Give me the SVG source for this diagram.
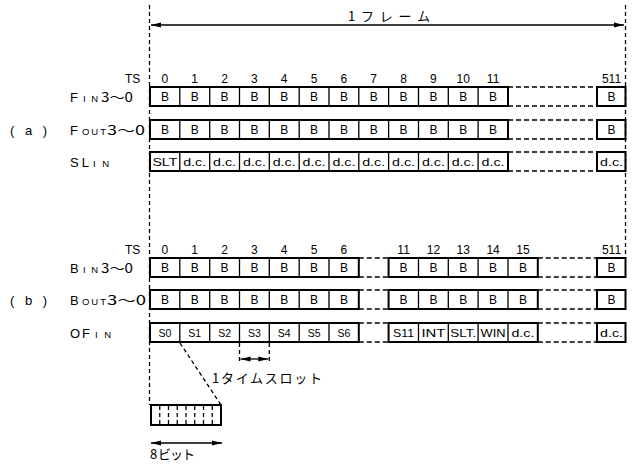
<svg xmlns="http://www.w3.org/2000/svg" width="635" height="469" viewBox="0 0 635 469">
<defs>
<style>
.t{font-family:"Liberation Sans","Noto Sans CJK JP",sans-serif;fill:#000}
.j{font-family:"Noto Sans CJK JP","Liberation Sans",sans-serif;fill:#000}
.n{font-size:12px;text-anchor:middle}
.c{font-size:12px;text-anchor:middle}
.s{font-size:10.5px;text-anchor:middle}
.L{font-size:13px}
.sm{font-size:9.5px}
.box{fill:none;stroke:#000;stroke-width:2}
.dv{stroke:#000;stroke-width:1.3;fill:none}
.dash{stroke:#000;stroke-width:1.6;stroke-dasharray:5 3;fill:none}
.vd{stroke:#000;stroke-width:1.3;stroke-dasharray:4 3;fill:none}
.ln{stroke:#000;stroke-width:1.3;fill:none}
</style>
<marker id="ah" viewBox="0 0 10 6" refX="10" refY="3" markerWidth="10" markerHeight="6" markerUnits="userSpaceOnUse" orient="auto-start-reverse">
<path d="M0,0.5 L10,3 L0,5.5 Z" fill="#000"/>
</marker>
</defs>
<rect width="635" height="469" fill="#fff"/>

<g id="connectors">
<line class="vd" x1="149.5" y1="5" x2="149.5" y2="405"/>
<line class="vd" x1="625.5" y1="5" x2="625.5" y2="258"/>
<line class="ln" x1="151" y1="25" x2="624" y2="25" marker-start="url(#ah)" marker-end="url(#ah)"/>
<line class="vd" x1="180" y1="343" x2="221" y2="405"/>
<line class="vd" x1="239.5" y1="343" x2="239.5" y2="364"/>
<line class="vd" x1="269.3" y1="343" x2="269.3" y2="364"/>
<line class="ln" x1="240.5" y1="359" x2="268.3" y2="359" marker-start="url(#ah)" marker-end="url(#ah)"/>
<line class="ln" x1="151" y1="443" x2="222" y2="443" marker-start="url(#ah)" marker-end="url(#ah)"/>
</g>

<g id="frame-label">
<text class="j" x="348" y="21" font-size="13" textLength="82" lengthAdjust="spacing">1フレーム</text>
</g>

<g id="label-a">
<text class="t" x="10" y="134.5" font-size="13" textLength="37" lengthAdjust="spacing">( a )</text>
</g>
<g id="label-b">
<text class="t" x="10" y="305" font-size="13" textLength="37" lengthAdjust="spacing">( b )</text>
</g>

<g id="ts-a">
<text class="t" x="125" y="83" font-size="12">TS</text>
<text class="t n" x="164.9" y="83">0</text><text class="t n" x="194.7" y="83">1</text><text class="t n" x="224.6" y="83">2</text><text class="t n" x="254.4" y="83">3</text><text class="t n" x="284.2" y="83">4</text><text class="t n" x="314.1" y="83">5</text><text class="t n" x="343.9" y="83">6</text><text class="t n" x="373.7" y="83">7</text><text class="t n" x="403.6" y="83">8</text><text class="t n" x="433.4" y="83">9</text><text class="t n" x="463.2" y="83">10</text><text class="t n" x="493.1" y="83">11</text><text class="t n" x="611.5" y="83">511</text>
</g>

<g id="row-fin">
<text class="t L" x="70" y="101.5">F</text><text class="t sm" x="83" y="101.5" textLength="15" lengthAdjust="spacing">IN</text><text class="j L" x="101" y="101.5" textLength="32" lengthAdjust="spacingAndGlyphs">3〜0</text>
<rect class="box" x="150" y="87" width="358" height="19"/>
<path class="dv" d="M179.8,87V106M209.7,87V106M239.5,87V106M269.3,87V106M299.2,87V106M329,87V106M358.8,87V106M388.6,87V106M418.5,87V106M448.3,87V106M478.1,87V106"/>
<path class="dash" d="M508,87H597M508,106H597"/>
<rect class="box" x="597" y="87" width="28.5" height="19"/>
<text class="t c" x="164.9" y="101">B</text><text class="t c" x="194.7" y="101">B</text><text class="t c" x="224.6" y="101">B</text><text class="t c" x="254.4" y="101">B</text><text class="t c" x="284.2" y="101">B</text><text class="t c" x="314.1" y="101">B</text><text class="t c" x="343.9" y="101">B</text><text class="t c" x="373.7" y="101">B</text><text class="t c" x="403.6" y="101">B</text><text class="t c" x="433.4" y="101">B</text><text class="t c" x="463.2" y="101">B</text><text class="t c" x="493.1" y="101">B</text><text class="t c" x="611.5" y="101">B</text>
</g>

<g id="row-fout">
<text class="t L" x="70" y="134.5">F</text><text class="t sm" x="82" y="134.5" textLength="24" lengthAdjust="spacing">OUT</text><text class="j L" x="107" y="134.5" textLength="38" lengthAdjust="spacingAndGlyphs">3〜0</text>
<rect class="box" x="150" y="120" width="358" height="19"/>
<path class="dv" d="M179.8,120V139M209.7,120V139M239.5,120V139M269.3,120V139M299.2,120V139M329,120V139M358.8,120V139M388.6,120V139M418.5,120V139M448.3,120V139M478.1,120V139"/>
<path class="dash" d="M508,120H597M508,139H597"/>
<rect class="box" x="597" y="120" width="28.5" height="19"/>
<text class="t c" x="164.9" y="134">B</text><text class="t c" x="194.7" y="134">B</text><text class="t c" x="224.6" y="134">B</text><text class="t c" x="254.4" y="134">B</text><text class="t c" x="284.2" y="134">B</text><text class="t c" x="314.1" y="134">B</text><text class="t c" x="343.9" y="134">B</text><text class="t c" x="373.7" y="134">B</text><text class="t c" x="403.6" y="134">B</text><text class="t c" x="433.4" y="134">B</text><text class="t c" x="463.2" y="134">B</text><text class="t c" x="493.1" y="134">B</text><text class="t c" x="611.5" y="134">B</text>
</g>

<g id="row-slin">
<text class="t L" x="70" y="166.5" textLength="19" lengthAdjust="spacing">SL</text><text class="t sm" x="93" y="166.5" textLength="16" lengthAdjust="spacing">IN</text>
<rect class="box" x="150" y="152" width="358" height="19"/>
<path class="dv" d="M179.8,152V171M209.7,152V171M239.5,152V171M269.3,152V171M299.2,152V171M329,152V171M358.8,152V171M388.6,152V171M418.5,152V171M448.3,152V171M478.1,152V171"/>
<path class="dash" d="M508,152H597M508,171H597"/>
<rect class="box" x="597" y="152" width="28.5" height="19"/>
<text class="t s" x="164.9" y="166" textLength="25" lengthAdjust="spacingAndGlyphs">SLT</text>
<text class="t s" x="194.7" y="166" textLength="23" lengthAdjust="spacingAndGlyphs">d.c.</text><text class="t s" x="224.6" y="166" textLength="23" lengthAdjust="spacingAndGlyphs">d.c.</text><text class="t s" x="254.4" y="166" textLength="23" lengthAdjust="spacingAndGlyphs">d.c.</text><text class="t s" x="284.2" y="166" textLength="23" lengthAdjust="spacingAndGlyphs">d.c.</text><text class="t s" x="314.1" y="166" textLength="23" lengthAdjust="spacingAndGlyphs">d.c.</text><text class="t s" x="343.9" y="166" textLength="23" lengthAdjust="spacingAndGlyphs">d.c.</text><text class="t s" x="373.7" y="166" textLength="23" lengthAdjust="spacingAndGlyphs">d.c.</text><text class="t s" x="403.6" y="166" textLength="23" lengthAdjust="spacingAndGlyphs">d.c.</text><text class="t s" x="433.4" y="166" textLength="23" lengthAdjust="spacingAndGlyphs">d.c.</text><text class="t s" x="463.2" y="166" textLength="23" lengthAdjust="spacingAndGlyphs">d.c.</text><text class="t s" x="493.1" y="166" textLength="23" lengthAdjust="spacingAndGlyphs">d.c.</text><text class="t s" x="611.5" y="166" textLength="23" lengthAdjust="spacingAndGlyphs">d.c.</text>
</g>

<g id="ts-b">
<text class="t" x="125" y="254" font-size="12">TS</text>
<text class="t n" x="164.9" y="254">0</text><text class="t n" x="194.7" y="254">1</text><text class="t n" x="224.6" y="254">2</text><text class="t n" x="254.4" y="254">3</text><text class="t n" x="284.2" y="254">4</text><text class="t n" x="314.1" y="254">5</text><text class="t n" x="343.9" y="254">6</text><text class="t n" x="403.6" y="254">11</text><text class="t n" x="433.4" y="254">12</text><text class="t n" x="463.2" y="254">13</text><text class="t n" x="493.1" y="254">14</text><text class="t n" x="522.9" y="254">15</text><text class="t n" x="611.5" y="254">511</text>
</g>

<g id="row-bin">
<text class="t L" x="70" y="272.5">B</text><text class="t sm" x="83" y="272.5" textLength="15" lengthAdjust="spacing">IN</text><text class="j L" x="101" y="272.5" textLength="32" lengthAdjust="spacingAndGlyphs">3〜0</text>
<rect class="box" x="150" y="258" width="208.8" height="19"/>
<path class="dv" d="M179.8,258V277M209.7,258V277M239.5,258V277M269.3,258V277M299.2,258V277M329,258V277"/>
<path class="dash" d="M358.8,258H388.6M358.8,277H388.6"/>
<rect class="box" x="388.6" y="258" width="149.2" height="19"/>
<path class="dv" d="M418.5,258V277M448.3,258V277M478.1,258V277M508,258V277"/>
<path class="dash" d="M537.8,258H597M537.8,277H597"/>
<rect class="box" x="597" y="258" width="28.5" height="19"/>
<text class="t c" x="164.9" y="272">B</text><text class="t c" x="194.7" y="272">B</text><text class="t c" x="224.6" y="272">B</text><text class="t c" x="254.4" y="272">B</text><text class="t c" x="284.2" y="272">B</text><text class="t c" x="314.1" y="272">B</text><text class="t c" x="343.9" y="272">B</text><text class="t c" x="403.6" y="272">B</text><text class="t c" x="433.4" y="272">B</text><text class="t c" x="463.2" y="272">B</text><text class="t c" x="493.1" y="272">B</text><text class="t c" x="522.9" y="272">B</text><text class="t c" x="611.5" y="272">B</text>
</g>

<g id="row-bout">
<text class="t L" x="70" y="304.5">B</text><text class="t sm" x="82" y="304.5" textLength="24" lengthAdjust="spacing">OUT</text><text class="j L" x="107" y="304.5" textLength="39" lengthAdjust="spacingAndGlyphs">3〜0</text>
<rect class="box" x="150" y="290" width="208.8" height="19"/>
<path class="dv" d="M179.8,290V309M209.7,290V309M239.5,290V309M269.3,290V309M299.2,290V309M329,290V309"/>
<path class="dash" d="M358.8,290H388.6M358.8,309H388.6"/>
<rect class="box" x="388.6" y="290" width="149.2" height="19"/>
<path class="dv" d="M418.5,290V309M448.3,290V309M478.1,290V309M508,290V309"/>
<path class="dash" d="M537.8,290H597M537.8,309H597"/>
<rect class="box" x="597" y="290" width="28.5" height="19"/>
<text class="t c" x="164.9" y="304">B</text><text class="t c" x="194.7" y="304">B</text><text class="t c" x="224.6" y="304">B</text><text class="t c" x="254.4" y="304">B</text><text class="t c" x="284.2" y="304">B</text><text class="t c" x="314.1" y="304">B</text><text class="t c" x="343.9" y="304">B</text><text class="t c" x="403.6" y="304">B</text><text class="t c" x="433.4" y="304">B</text><text class="t c" x="463.2" y="304">B</text><text class="t c" x="493.1" y="304">B</text><text class="t c" x="522.9" y="304">B</text><text class="t c" x="611.5" y="304">B</text>
</g>

<g id="row-ofin">
<text class="t L" x="70" y="337.5" textLength="20" lengthAdjust="spacing">OF</text><text class="t sm" x="95" y="337.5" textLength="16" lengthAdjust="spacing">IN</text>
<rect class="box" x="150" y="323" width="208.8" height="19"/>
<path class="dv" d="M179.8,323V342M209.7,323V342M239.5,323V342M269.3,323V342M299.2,323V342M329,323V342"/>
<path class="dash" d="M358.8,323H388.6M358.8,342H388.6"/>
<rect class="box" x="388.6" y="323" width="149.2" height="19"/>
<path class="dv" d="M418.5,323V342M448.3,323V342M478.1,323V342M508,323V342"/>
<path class="dash" d="M537.8,323H597M537.8,342H597"/>
<rect class="box" x="597" y="323" width="28.5" height="19"/>
<text class="t s" x="164.9" y="337">S0</text><text class="t s" x="194.7" y="337">S1</text><text class="t s" x="224.6" y="337">S2</text><text class="t s" x="254.4" y="337">S3</text><text class="t s" x="284.2" y="337">S4</text><text class="t s" x="314.1" y="337">S5</text><text class="t s" x="343.9" y="337">S6</text>
<text class="t s" x="403.6" y="337" textLength="21" lengthAdjust="spacingAndGlyphs">S11</text><text class="t s" x="433.4" y="337" textLength="24" lengthAdjust="spacingAndGlyphs">INT</text><text class="t s" x="463.2" y="337" textLength="26" lengthAdjust="spacingAndGlyphs">SLT.</text><text class="t s" x="493.1" y="337" textLength="25" lengthAdjust="spacingAndGlyphs">WIN</text><text class="t s" x="522.9" y="337" textLength="23" lengthAdjust="spacingAndGlyphs">d.c.</text><text class="t s" x="611.5" y="337" textLength="23" lengthAdjust="spacingAndGlyphs">d.c.</text>
</g>

<g id="timeslot-label">
<text class="j" x="212" y="383" font-size="13" textLength="110" lengthAdjust="spacing">1タイムスロット</text>
</g>

<g id="byte-box">
<rect class="box" x="151" y="405" width="70" height="20"/>
<path class="vd" stroke-dasharray="2 2" d="M159.75,406V424M168.5,406V424M177.25,406V424M186,406V424M194.75,406V424M203.5,406V424M212.25,406V424"/>
</g>

<g id="bits-label">
<text class="j" x="150" y="459" font-size="13" textLength="45" lengthAdjust="spacing">8 ビット</text>
</g>
</svg>
